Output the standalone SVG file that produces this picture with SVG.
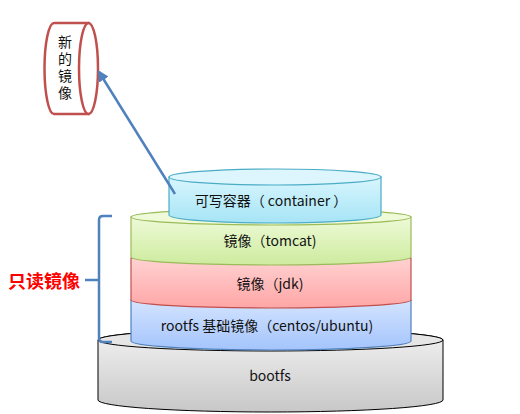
<svg xmlns="http://www.w3.org/2000/svg" width="520" height="414" viewBox="0 0 520 414">
<style>
text{font-family:"Noto Sans CJK SC","Liberation Sans",sans-serif;font-size:14px;fill:#111;text-anchor:middle;dominant-baseline:central}
.red{fill:#FF0000;font-weight:bold;font-size:18px}
.vert{writing-mode:tb;glyph-orientation-vertical:0;letter-spacing:3px;font-size:14px}
.conn{fill:none;stroke:#4F81BD;stroke-width:2.5}
</style>
<defs>
<linearGradient id="gC" x1="0" y1="0" x2="0" y2="1"><stop offset="0" stop-color="#D8F6FE"/><stop offset="1" stop-color="#A6E4F6"/></linearGradient>
<linearGradient id="gT" x1="0" y1="0" x2="0" y2="1"><stop offset="0" stop-color="#EEFAD8"/><stop offset="1" stop-color="#CDEB9E"/></linearGradient>
<linearGradient id="gJ" x1="0" y1="0" x2="0" y2="1"><stop offset="0" stop-color="#FFD2D2"/><stop offset="1" stop-color="#FFA6A6"/></linearGradient>
<linearGradient id="gR" x1="0" y1="0" x2="0" y2="1"><stop offset="0" stop-color="#D4E4FF"/><stop offset="1" stop-color="#A4C4FC"/></linearGradient>
<linearGradient id="gB" x1="0" y1="0" x2="0" y2="1"><stop offset="0" stop-color="#F2F2F2"/><stop offset="1" stop-color="#C8C8C8"/></linearGradient>
<marker id="arr" viewBox="0 0 10 10" refX="8" refY="5" markerWidth="4.5" markerHeight="4.5" orient="auto-start-reverse" markerUnits="strokeWidth">
<path d="M0,0 L10,5 L0,10 z" fill="#4F81BD"/>
</marker>
</defs>

<g id="bootfs">
<path d="M98,340 L98,400 A172.5,12 0 0 0 443,400 L443,340 A172.5,11 0 0 0 98,340 Z" fill="url(#gB)" stroke="#000" stroke-width="1"/>
<ellipse cx="270.5" cy="340" rx="172.5" ry="11" fill="#E6E6E6" stroke="#000" stroke-width="1"/>
<text x="270" y="375">bootfs</text>
</g>

<g id="rootfs">
<path d="M131,300 L131,341 A140,9 0 0 0 411,341 L411,300 Z" fill="url(#gR)" stroke="#4F81BD" stroke-width="1.2"/>
<text x="267" y="325">rootfs 基础镜像（centos/ubuntu)</text>
</g>

<g id="jdk">
<path d="M131,258 L131,300 A140,8 0 0 0 411,300 L411,258 Z" fill="url(#gJ)" stroke="#C0504D" stroke-width="1.2"/>
<text x="270" y="283">镜像（jdk)</text>
</g>

<g id="tomcat">
<path d="M131,217 L131,257 A140,8 0 0 0 411,257 L411,217 Z" fill="url(#gT)" stroke="#9BBB59" stroke-width="1.2"/>
<ellipse cx="271" cy="217" rx="140" ry="8" fill="#EEFAD8" stroke="#9BBB59" stroke-width="1.2"/>
<text x="270" y="240">镜像（tomcat)</text>
</g>

<g id="container">
<path d="M169,177 L169,215 A106,8 0 0 0 381,215 L381,177 Z" fill="url(#gC)" stroke="#4BACC6" stroke-width="1.2"/>
<ellipse cx="275" cy="177" rx="106" ry="8" fill="#DDF6FD" stroke="#4BACC6" stroke-width="1.2"/>
<text x="271" y="200">可写容器（ container ）</text>
</g>

<g id="new-image">
<path d="M54,23 L88.5,23 L88.5,114 L54,114 A9.5,45.5 0 0 1 54,23 Z" fill="#fff" stroke="#C0504D" stroke-width="2.5"/>
<ellipse cx="88.5" cy="68.5" rx="9.5" ry="45.5" fill="#fff" stroke="#C0504D" stroke-width="2.5"/>
<text class="vert" x="65" y="69">新的镜像</text>
</g>

<g id="readonly-label">
<text class="red" x="44" y="280">只读镜像</text>
</g>

<g id="connectors">
<path class="conn" d="M175,194 L99,72" marker-end="url(#arr)"/>
<path class="conn" d="M112,216 L103,216 Q99,216 99,220 L99,338 Q99,342 103,342 L112,342"/>
<path class="conn" d="M85,280 L99,280"/>
</g>
</svg>
